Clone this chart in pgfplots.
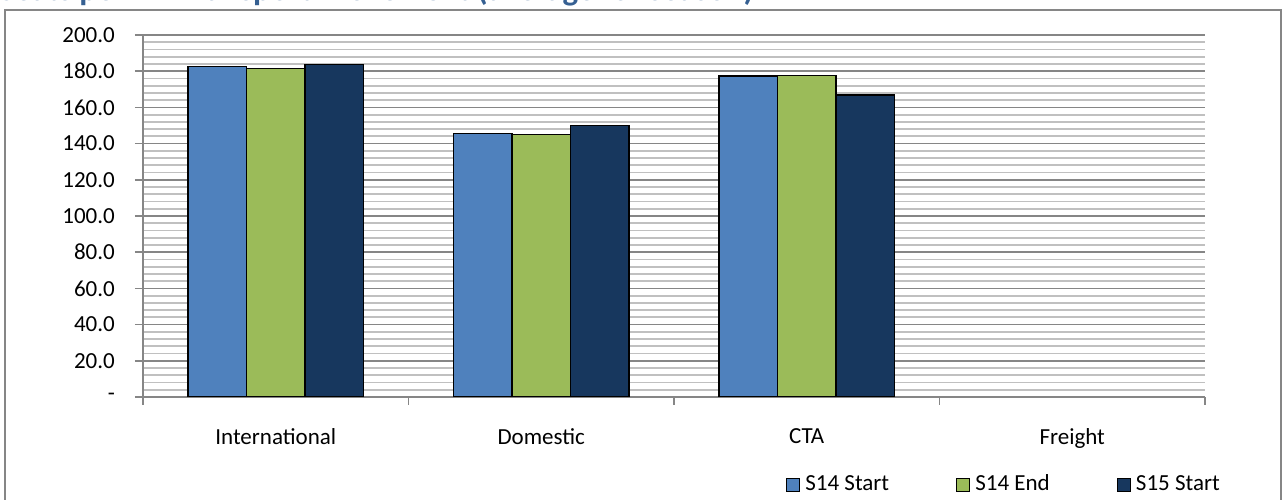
\documentclass[border=0pt]{standalone}
\usepackage{fontspec}
\setmainfont{Carlito}
\usepackage{pgfplots}
\pgfplotsset{compat=1.18}
\definecolor{s14start}{RGB}{79,129,189}
\definecolor{s14end}{RGB}{155,187,89}
\definecolor{s15start}{RGB}{23,55,94}
\definecolor{titleblue}{RGB}{54,96,146}
\definecolor{framegray}{RGB}{134,134,134}
\definecolor{minorgray}{RGB}{192,192,192}

\begin{document}
\begin{tikzpicture}[x=1pt,y=1pt]
  % outer chart frame (bottom edge falls off the page)
  \draw[framegray, line width=1.5pt] (5,-20) rectangle (1281,490);
  % title, mostly cut off by the page top as in the reference
  \node[anchor=base west, inner sep=0pt, text=titleblue,
        font=\fontsize{33}{38}\selectfont\bfseries] at (-1,499.5)
        {Seats per Air Transport Movement (average for season)};

  \begin{axis}[
    at={(143pt,103pt)}, anchor=south west,
    scale only axis, width=1062pt, height=362pt,
    xmin=-0.5, xmax=3.5, ymin=0, ymax=200,
    ybar=0pt, bar width=58.6pt,
    axis x line*=bottom, axis y line*=left,
    axis line style={-, draw=framegray, line width=1.5pt},
    tick align=outside, major tick length=8pt, minor tick length=0pt,
    tick style={draw=framegray, line width=1.5pt},
    % category boundaries carry the tick marks, labels sit at the centres
    xtick={-0.5,0.5,1.5,2.5,3.5}, xticklabel=\empty,
    extra x ticks={0,1,2,3},
    extra x tick labels={International,Domestic,CTA,Freight},
    extra x tick style={tick style={draw=none}},
    xticklabel style={inner sep=0pt, anchor=north, yshift=-23pt},
    ytick={0,20,...,200},
    yticklabels={-,20.0,40.0,60.0,80.0,100.0,120.0,140.0,160.0,180.0,200.0},
    yticklabel style={inner sep=0pt, xshift=-20pt},
    minor y tick num=4,
    ymajorgrids, yminorgrids,
    major grid style={draw=framegray, line width=1.5pt},
    minor grid style={draw=minorgray, line width=1.8pt},
    tick label style={font=\fontsize{23}{27}\selectfont},
    legend columns=3,
    legend image code/.code={%
      \draw[#1, line width=0.9pt] (0pt,-6.5pt) rectangle (13pt,6.5pt);
      \path (16pt,0pt);},
    legend style={draw=none, fill=none, at={(0.6055,-0.243)}, anchor=west,
                  font=\fontsize{23}{27}\selectfont, inner sep=0pt,
                  nodes={text height=16pt, text depth=5pt},
                  /tikz/every even column/.append style={column sep=65pt}},
  ]
    \addplot[fill=s14start, draw=black, line width=1.4pt]
      coordinates {(0,182.5) (1,145.7) (2,177.3)};
    \addlegendentry{S14 Start}
    \addplot[fill=s14end, draw=black, line width=1.4pt]
      coordinates {(0,181.6) (1,145.1) (2,177.7)};
    \addlegendentry{S14 End}
    \addplot[fill=s15start, draw=black, line width=1.4pt]
      coordinates {(0,183.8) (1,149.9) (2,166.9)};
    \addlegendentry{S15 Start}
  \end{axis}

  \pgfresetboundingbox
  \useasboundingbox (0,0) rectangle (1282,500);
\end{tikzpicture}
\end{document}
